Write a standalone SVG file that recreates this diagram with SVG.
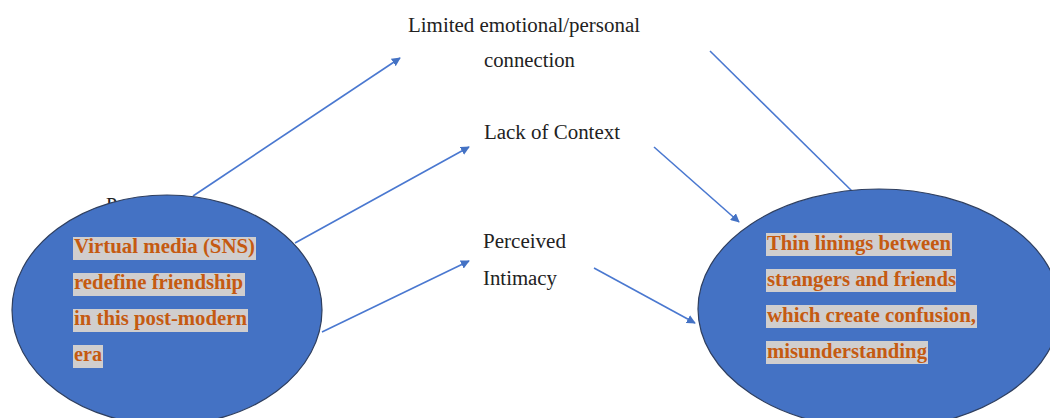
<svg xmlns="http://www.w3.org/2000/svg" width="1050" height="418" viewBox="0 0 1050 418">
  <style>
    .label { font-family: "Liberation Serif", "Times New Roman", serif; font-size: 20px; fill: #222; }
    .ellipse { fill: #4472C4; stroke: #2F3F5F; stroke-width: 1.2; }
    .hl { fill: #D0CECE; }
    .inner { font-family: "Liberation Serif", "Times New Roman", serif; font-size: 20px; font-weight: bold; fill: #C55A11; }
    .conn { stroke: #4A78D0; stroke-width: 1.6; fill: none; }
  </style>
  <defs>
    <marker id="arrow" viewBox="0 0 10 10" refX="9" refY="5" markerWidth="9" markerHeight="9" markerUnits="userSpaceOnUse" orient="auto">
      <path d="M0,0 L10,5 L0,10 z" fill="#4472C4"/>
    </marker>
  </defs>
  <rect width="1050" height="418" fill="#ffffff"/>

  <!-- connectors -->
  <g id="connectors">
    <line class="conn" x1="193" y1="196" x2="400" y2="58" marker-end="url(#arrow)"/>
    <line class="conn" x1="295" y1="243" x2="469" y2="147" marker-end="url(#arrow)"/>
    <line class="conn" x1="322" y1="332" x2="469" y2="261" marker-end="url(#arrow)"/>
    <line class="conn" x1="654" y1="147" x2="739" y2="222" marker-end="url(#arrow)"/>
    <line class="conn" x1="594" y1="268" x2="695" y2="323" marker-end="url(#arrow)"/>
    <line class="conn" x1="710" y1="51" x2="856" y2="195"/>
  </g>

  <!-- top labels -->
  <g id="limited-connection">
    <text class="label" x="408" y="32" textLength="232" lengthAdjust="spacingAndGlyphs">Limited emotional/personal</text>
    <text class="label" x="484" y="67" textLength="91" lengthAdjust="spacingAndGlyphs">connection</text>
  </g>
  <g id="lack-of-context">
    <text class="label" x="484" y="139" textLength="136" lengthAdjust="spacingAndGlyphs">Lack of Context</text>
  </g>
  <g id="perceived-intimacy">
    <text class="label" x="483" y="248" textLength="83" lengthAdjust="spacingAndGlyphs">Perceived</text>
    <text class="label" x="483" y="285" textLength="74" lengthAdjust="spacingAndGlyphs">Intimacy</text>
  </g>

  <!-- left node -->
  <g id="virtual-media">
    <text class="label" x="106" y="212">P</text>
    <ellipse class="ellipse" cx="167" cy="310" rx="155" ry="115"/>
    <rect class="hl" x="73" y="237" width="183" height="23"/>
    <rect class="hl" x="73" y="273" width="172" height="23"/>
    <rect class="hl" x="73" y="309" width="175" height="23"/>
    <rect class="hl" x="73" y="345" width="30" height="23"/>
    <text class="inner" x="74" y="253" textLength="181" lengthAdjust="spacingAndGlyphs">Virtual media (SNS)</text>
    <text class="inner" x="74" y="289" textLength="169" lengthAdjust="spacingAndGlyphs">redefine friendship</text>
    <text class="inner" x="74" y="325" textLength="173" lengthAdjust="spacingAndGlyphs">in this post-modern</text>
    <text class="inner" x="74" y="361" textLength="28" lengthAdjust="spacingAndGlyphs">era</text>
  </g>

  <!-- right node -->
  <g id="thin-linings">
    <ellipse class="ellipse" cx="879" cy="309" rx="181" ry="120"/>
    <rect class="hl" x="766" y="233" width="186" height="23"/>
    <rect class="hl" x="766" y="269" width="190" height="23"/>
    <rect class="hl" x="766" y="305" width="211" height="23"/>
    <rect class="hl" x="766" y="341" width="162" height="23"/>
    <text class="inner" x="767" y="250" textLength="184" lengthAdjust="spacingAndGlyphs">Thin linings between</text>
    <text class="inner" x="767" y="286" textLength="189" lengthAdjust="spacingAndGlyphs">strangers and friends</text>
    <text class="inner" x="767" y="322" textLength="209" lengthAdjust="spacingAndGlyphs">which create confusion,</text>
    <text class="inner" x="767" y="358" textLength="160" lengthAdjust="spacingAndGlyphs">misunderstanding</text>
  </g>
</svg>
